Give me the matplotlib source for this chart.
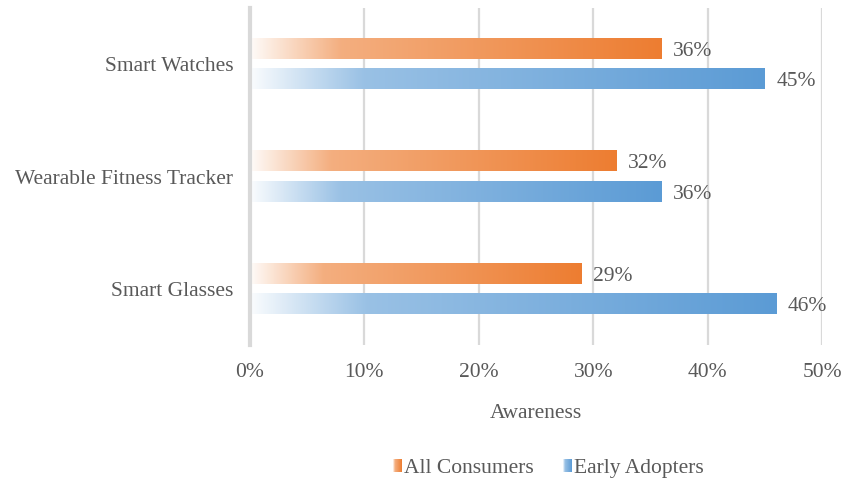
import numpy as np
import matplotlib
matplotlib.use("Agg")
import matplotlib.pyplot as plt
from matplotlib.colors import to_rgb

categories = ["Smart Glasses", "Wearable Fitness Tracker", "Smart Watches"]
all_consumers = [29, 32, 36]
early_adopters = [46, 36, 45]
series_names = ["All Consumers", "Early Adopters"]
series_colors = ["#ED7D31", "#5B9BD5"]
x_ticks = [0, 10, 20, 30, 40, 50]

plt.rcParams["font.family"] = ["Liberation Serif", "DejaVu Serif"]
TEXT = "#595959"
GRID = "#D9D9D9"
FS = 15.5

fig = plt.figure(figsize=(8.41, 4.8), dpi=100)
ax = fig.add_axes([250 / 841, 135 / 480, 572 / 841, 337 / 480])


def gradient_rgba(color, n=256):
    base = np.array(to_rgb(color))
    f = np.linspace(0, 1, n)
    t = np.interp(f, [0.0, 0.22, 1.0], [0.03, 0.62, 1.0])
    rgb = (1 - t)[:, None] * np.ones(3) + t[:, None] * base
    return rgb[None, :, :]


bar_h = 0.18
offset = 0.135
for vals, color, dy in ((all_consumers, series_colors[0], offset),
                        (early_adopters, series_colors[1], -offset)):
    img = gradient_rgba(color)
    for i, v in enumerate(vals):
        y = i + dy
        ax.imshow(img, extent=[0, v, y - bar_h / 2, y + bar_h / 2],
                  aspect="auto", interpolation="bilinear", zorder=3)
        ax.text(v + 1.0, y, f"{v}%", va="center_baseline", ha="left",
                fontsize=FS, color=TEXT, zorder=4)

ax.set_xlim(0, 50)
ax.set_ylim(-0.5, 2.5)
ax.set_xticks(x_ticks)
ax.set_xticklabels([f"{t}%" for t in x_ticks], fontsize=FS, color=TEXT)
ax.set_yticks(range(len(categories)))
ax.set_yticklabels(categories, fontsize=FS, color=TEXT)
ax.tick_params(axis="both", length=0)
ax.tick_params(axis="x", pad=13)
ax.tick_params(axis="y", pad=12)

ax.grid(axis="x", color=GRID, linewidth=1.6, zorder=0)
ax.set_axisbelow(True)
for side in ("top", "right", "bottom"):
    ax.spines[side].set_visible(False)
ax.spines["left"].set_color(GRID)
ax.spines["left"].set_linewidth(3)
ax.spines["left"].set_zorder(5)

fig.text(536 / 841, 1 - 414 / 480, "Awareness", ha="center", va="center",
         fontsize=FS, color=TEXT)

# legend: gradient squares followed by series names
legend_items = [(393, series_names[0], series_colors[0]),
                (563, series_names[1], series_colors[1])]
for x0, name, color in legend_items:
    sq = fig.add_axes([x0 / 841, 1 - 472 / 480, 9 / 841, 13 / 480])
    sq.imshow(gradient_rgba(color), aspect="auto", interpolation="bilinear")
    sq.set_axis_off()
    fig.text((x0 + 11) / 841, 1 - 466 / 480, name, ha="left",
             va="center_baseline", fontsize=FS, color=TEXT)

fig.savefig("out.png", dpi=100, facecolor="white")
